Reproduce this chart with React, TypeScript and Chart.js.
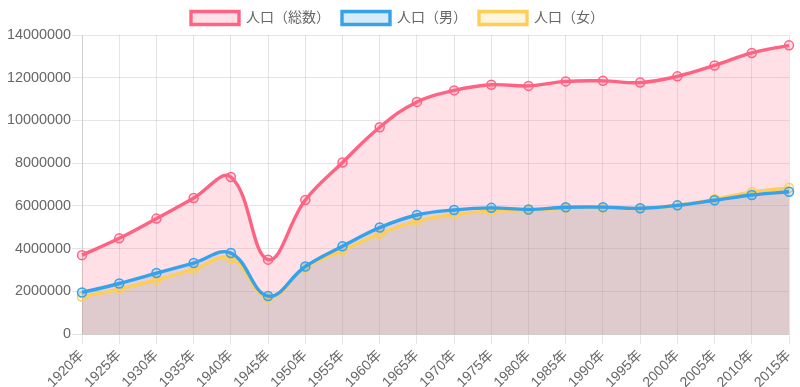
import React, { useEffect, useRef } from "react";
import { Chart, registerables } from "chart.js";

Chart.register(...registerables);

const years = ["1920年","1925年","1930年","1935年","1940年","1945年","1950年","1955年","1960年","1965年","1970年","1975年","1980年","1985年","1990年","1995年","2000年","2005年","2010年","2015年"];
const total = [3699428,4485144,5408678,6369919,7354971,3488284,6277500,8037084,9683802,10869244,11408071,11673554,11618281,11829363,11855563,11773605,12064101,12576601,13159388,13515271];
const male = [1952989,2373000,2861000,3330000,3801000,1784000,3169000,4117000,4989000,5577000,5814000,5912000,5837000,5937000,5945000,5892000,6029000,6265000,6512000,6667000];
const female = [1746439,2112000,2547000,3040000,3554000,1704000,3108000,3920000,4695000,5292000,5594000,5762000,5781000,5892000,5910000,5881000,6035000,6311000,6647000,6848000];
const labels = ["人口（総数）","人口（男）","人口（女）"];

export default function App() {
  const ref = useRef<HTMLCanvasElement>(null);
  useEffect(() => {
    const font = "'Liberation Sans', Arial, 'Noto Sans CJK JP', sans-serif";
    const mk = (label: string, data: number[], r: number, g: number, b: number) => ({
      label,
      data,
      borderColor: `rgb(${r},${g},${b})`,
      backgroundColor: `rgba(${r},${g},${b},0.2)`,
      pointBackgroundColor: `rgba(${r},${g},${b},0.2)`,
      pointBorderColor: `rgb(${r},${g},${b})`,
      pointRadius: 4.5,
      pointBorderWidth: 1.5,
      borderWidth: 3.4,
      tension: 0.4,
      fill: "origin",
    });
    const chart = new Chart(ref.current!, {
      type: "line",
      data: {
        labels: years,
        datasets: [
          mk(labels[0], total, 255, 99, 132),
          mk(labels[1], male, 54, 162, 235),
          mk(labels[2], female, 255, 206, 86),
        ],
      },
      options: {
        animation: false,
        responsive: false,
        maintainAspectRatio: false,
        layout: { padding: { left: 6, right: 11, top: -1, bottom: -7 } },
        plugins: {
          filler: { drawTime: "beforeDatasetsDraw" },
          legend: {
            labels: {
              font: { family: font, size: 14 },
              color: "#666",
              boxWidth: 48,
              boxHeight: 13,
              padding: 12,
            },
          },
          tooltip: { enabled: false },
        },
        scales: {
          x: {
            afterFit: (s: any) => { s.paddingRight = 0; },
            grid: { color: "rgba(0,0,0,0.1)", tickLength: 10 },
            ticks: {
              font: { family: font, size: 14 },
              color: "#666",
              autoSkip: false,
              maxRotation: 45,
              minRotation: 45,
            },
          },
          y: {
            min: 0,
            max: 14000000,
            grid: { color: "rgba(0,0,0,0.1)", tickLength: 10 },
            ticks: {
              stepSize: 2000000,
              font: { family: font, size: 14.4 },
              color: "#666",
              padding: 1,
              callback: (v: any) => String(v),
            },
          },
        },
      },
    });
    return () => chart.destroy();
  }, []);
  return (
    <div style={{ position: "fixed", left: 0, top: 0, width: 800, height: 387 }}>
      <canvas ref={ref} width={800} height={387} style={{ width: 800, height: 387 }} />
    </div>
  );
}
